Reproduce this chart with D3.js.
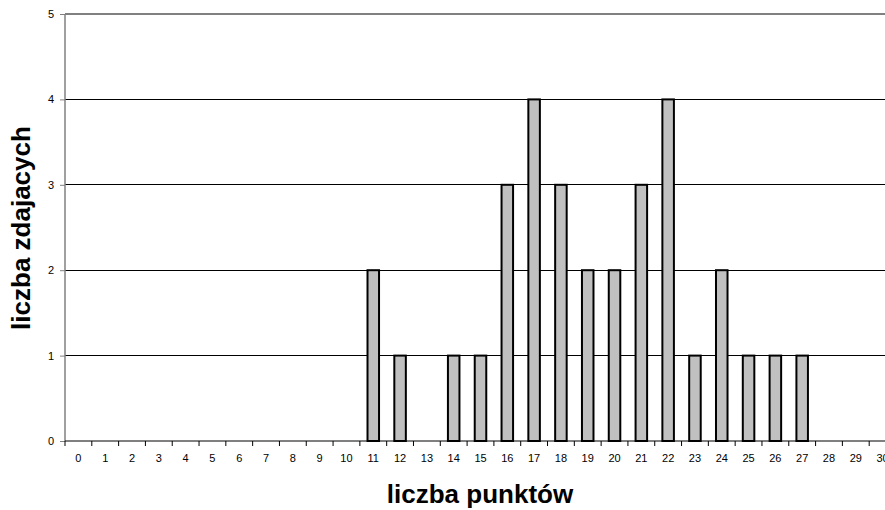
<!DOCTYPE html>
<html><head><meta charset="utf-8">
<script src="https://cdn.jsdelivr.net/npm/d3@7"></script>
<style>html,body{margin:0;padding:0;background:#fff;overflow:hidden}</style>
</head><body>
<svg id="c" width="885" height="510"></svg>
<script>
const categories = ["0","1","2","3","4","5","6","7","8","9","10","11","12","13","14","15","16","17","18","19","20","21","22","23","24","25","26","27","28","29","30"];
const values = [0,0,0,0,0,0,0,0,0,0,0,2,1,0,1,1,3,4,3,2,2,3,4,1,2,1,1,1,0,0,0];
const yTicks = [0,1,2,3,4,5];
const xTitle = "liczba punktów";
const yTitle = "liczba zdajacych";

const svg = d3.select("#c");
const pLeft = 65, pRight = 896, pTop = 14, pBottom = 441;
const x = d3.scaleBand().domain(categories).range([pLeft, pRight]).padding(0);
const y = d3.scaleLinear().domain([0, 5]).range([pBottom, pTop]);
const font = "'Liberation Sans', Arial, sans-serif";

// gridlines
svg.append("g").selectAll("line").data(yTicks.filter(d => d > 0 && d < 5)).join("line")
  .attr("x1", pLeft).attr("x2", pRight).attr("y1", d => y(d)).attr("y2", d => y(d))
  .attr("stroke", "#000").attr("stroke-width", 1).attr("shape-rendering", "crispEdges");
// top border
svg.append("line").attr("x1", pLeft).attr("x2", pRight).attr("y1", y(5)).attr("y2", y(5))
  .attr("stroke", "#808080").attr("stroke-width", 1.5).attr("shape-rendering", "crispEdges");

// bars
const bw = x.bandwidth() * 0.43;
svg.append("g").selectAll("rect").data(categories.map((c, i) => ({c, v: values[i]})).filter(d => d.v > 0)).join("rect")
  .attr("x", d => x(d.c) + (x.bandwidth() - bw) / 2)
  .attr("width", bw)
  .attr("y", d => y(d.v))
  .attr("height", d => y(0) - y(d.v))
  .attr("fill", "#c0c0c0").attr("stroke", "#000").attr("stroke-width", 2);

// y axis
const ya = svg.append("g").attr("transform", `translate(${pLeft},0)`)
  .call(d3.axisLeft(y).tickValues(yTicks).tickFormat(d3.format("d")).tickSize(5).tickPadding(6));
ya.select(".domain").attr("stroke", "#808080").attr("stroke-width", 1.5).attr("d", `M0,${pTop}V${pBottom}`);
ya.selectAll(".tick line").attr("stroke", "#808080");
ya.selectAll("text").attr("font-family", font).attr("font-size", 11).attr("fill", "#000");

// x axis
const xa = svg.append("g").attr("transform", `translate(0,${pBottom})`)
  .call(d3.axisBottom(x).tickSize(0).tickPadding(13));
xa.select(".domain").attr("stroke", "#000").attr("stroke-width", 1).attr("d", `M${pLeft},0H${pRight}`);
xa.selectAll("text").attr("font-family", font).attr("font-size", 11).attr("fill", "#000");
// boundary ticks
const bounds = categories.map(c => x(c)).concat([pRight]);
xa.append("g").selectAll("line").data(bounds).join("line")
  .attr("x1", d => d).attr("x2", d => d).attr("y1", 0).attr("y2", 5)
  .attr("stroke", "#000").attr("stroke-width", 1);

// titles
svg.append("text").attr("x", 480).attr("y", 503).attr("text-anchor", "middle")
  .attr("font-family", font).attr("font-weight", "bold").attr("font-size", 26).text(xTitle);
svg.append("text").attr("transform", `translate(30,228) rotate(-90)`).attr("text-anchor", "middle")
  .attr("font-family", font).attr("font-weight", "bold").attr("font-size", 26).text(yTitle);
</script>
</body></html>
